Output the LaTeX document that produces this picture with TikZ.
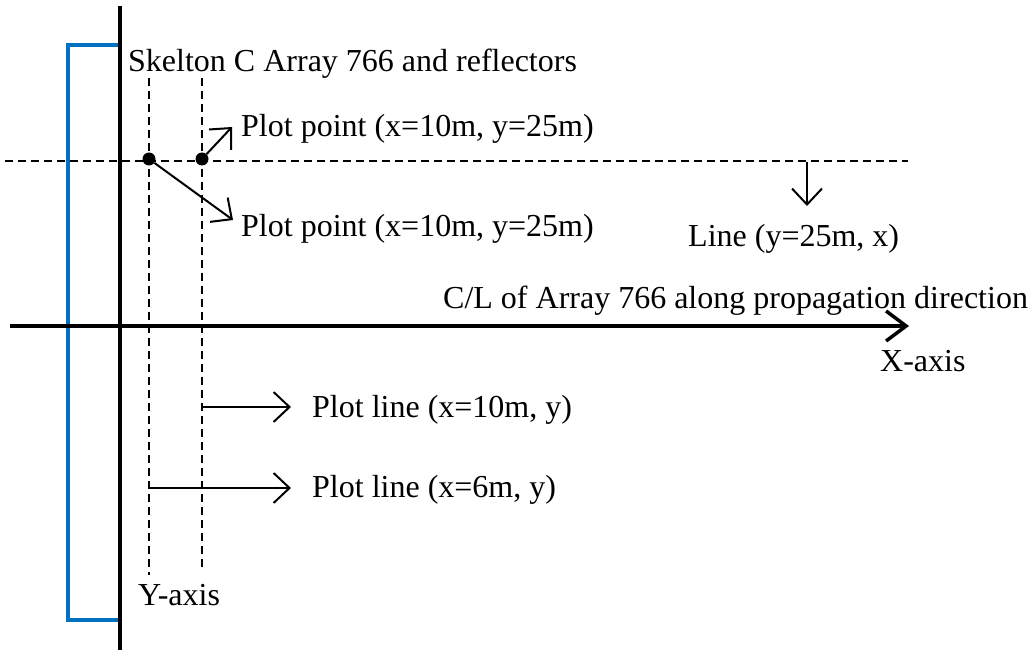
\documentclass[tikz,border=0pt]{standalone}
\usepackage{fontspec}
\setmainfont{Liberation Serif}
\usetikzlibrary{arrows.meta}
\definecolor{officeblue}{RGB}{0,112,192}
\begin{document}
\begin{tikzpicture}[x=1pt,y=-1pt,
  lbl/.style={anchor=west,inner sep=0pt,font=\fontsize{32}{36}\selectfont},
  guide/.style={line width=1.5pt,dash pattern=on 8pt off 5pt},
  thinarrow/.style={line width=2pt,-{Straight Barb[length=16pt,width=30pt,line width=2pt]}},
  axisline/.style={line width=3.5pt},
  dot/.style={circle,fill=black,inner sep=0pt,minimum size=13pt}]
\useasboundingbox (0,0) rectangle (1034,655);
% blue rectangle
\draw[officeblue,line width=4pt] (68,45) rectangle (120,620);
% guides
\draw[guide] (5,161) -- (908,161);
\draw[guide] (149,78) -- (149,575);
\draw[guide] (202,78) -- (202,570);
% axes
\coordinate (yt) at (120,6);
\coordinate (yb) at (120,650);
\draw[axisline] (yt) -- (yb);
\coordinate (xl) at (10,326);
\coordinate (xr) at (909,326);
\draw[axisline,-{Straight Barb[length=20pt,width=30pt,line width=3.5pt]}] (xl) -- (xr);
% dots
\node[dot] (p1) at (149,159) {};
\node[dot] (p2) at (202,159) {};
% labels
\node[lbl] (sk) at (128,64) {Skelton C Array 766 and reflectors};
\node[lbl] (pp1) at (241,129) {Plot point (x=10m, y=25m)};
\node[lbl] (pp2) at (241,229) {Plot point (x=10m, y=25m)};
\node[lbl] (ln) at (688,239) {Line (y=25m, x)};
\node[lbl] (cl) at (443,301) {C/L of Array 766 along propagation direction};
\node[lbl] (xa) at (880,361) {X-axis};
\node[lbl] (pl1) at (312,410) {Plot line (x=10m, y)};
\node[lbl] (pl2) at (312,490) {Plot line (x=6m, y)};
\node[lbl] (ya) at (138,595) {Y-axis};
% arrows
\coordinate (a1e) at (232,127);
\draw[thinarrow] (p2) -- (a1e);
\coordinate (a2e) at (233,220);
\draw[thinarrow] (p1) -- (a2e);
\coordinate (ds) at (807,162);
\coordinate (de) at (807,206);
\draw[thinarrow] (ds) -- (de);
\coordinate (l1s) at (202,407);
\coordinate (l1e) at (291,407);
\draw[thinarrow] (l1s) -- (l1e);
\coordinate (l2s) at (149,488);
\coordinate (l2e) at (291,488);
\draw[thinarrow] (l2s) -- (l2e);
\end{tikzpicture}
\end{document}
